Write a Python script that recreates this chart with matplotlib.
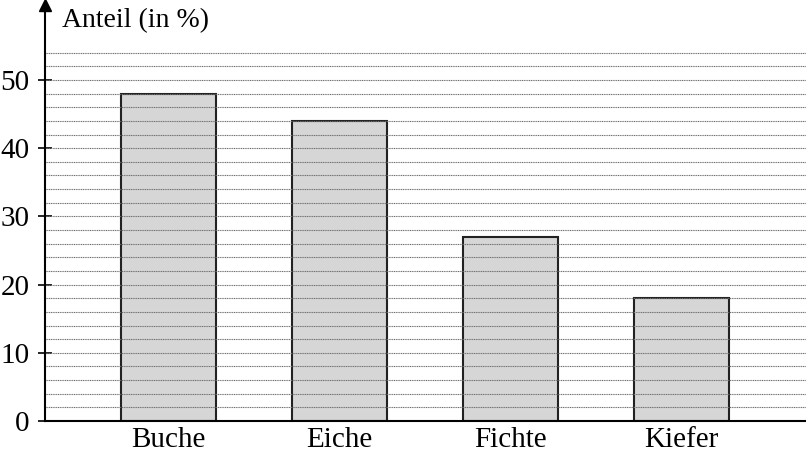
import matplotlib
matplotlib.use("Agg")
import matplotlib.pyplot as plt
import numpy as np

categories = ["Buche", "Eiche", "Fichte", "Kiefer"]
values = [48, 44, 27, 18]
yticks = [0, 10, 20, 30, 40, 50]
grid_levels = list(range(2, 56, 2))
ylabel = "Anteil (in %)"

plt.rcParams['font.family'] = ['Liberation Serif', 'DejaVu Serif']

fig = plt.figure(figsize=(8.06, 4.54), dpi=100)
ax = fig.add_axes([45/806, 33/454, 1 - 45/806, (454 - 33 - 5)/454])
ax.set_xlim(-0.72, 3.73)
ax.set_ylim(0, 61)

for g in grid_levels:
    ax.axhline(g, color="#707070", lw=0.8, ls=(0, (1, 0.6)), zorder=3)

x = np.arange(len(categories))
ax.bar(x, values, width=0.556, color="#d6d6d6", edgecolor="#222222", linewidth=1.5, zorder=2)

ax.spines['top'].set_visible(False)
ax.spines['right'].set_visible(False)
ax.spines['left'].set_linewidth(1.5)
ax.spines['bottom'].set_linewidth(1.5)
ax.spines['left'].set_zorder(4)
ax.spines['bottom'].set_zorder(4)

ax.set_yticks(yticks)
ax.set_yticklabels([str(t) for t in yticks], fontsize=21)
ax.set_xticks(x)
ax.set_xticklabels(categories, fontsize=21)
ax.tick_params(axis='y', direction='inout', length=10, width=1.2, pad=6)
ax.tick_params(axis='x', length=0, pad=4)

ax.plot([0], [1], marker='^', markersize=8, color='black', transform=ax.transAxes, clip_on=False, zorder=5)
ax.text(62/806, 1 - 21/454, ylabel, transform=fig.transFigure, fontsize=20, va='center', ha='left')

fig.savefig("out.png", dpi=100)
